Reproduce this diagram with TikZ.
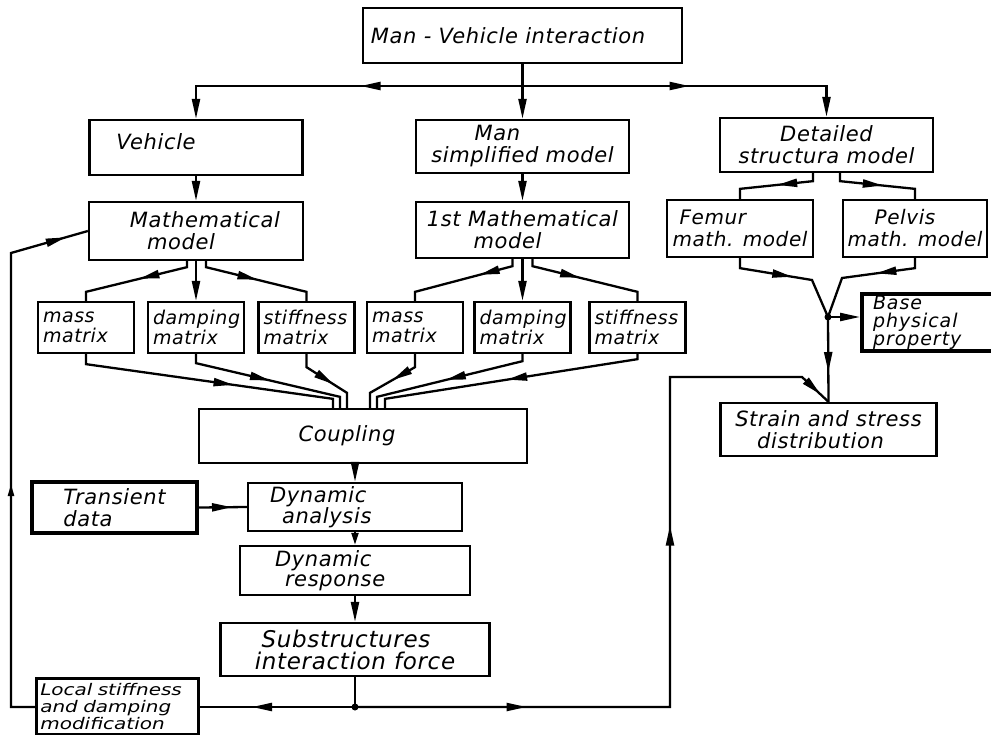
\documentclass[tikz,border=0pt]{standalone}
\usepackage{fontspec}
\setmainfont{DejaVu Sans}
\newfontfamily\handA{DejaVu Sans}[LetterSpace=3]
\newfontfamily\handC{DejaVu Sans}[LetterSpace=5]
\newfontfamily\handD{DejaVu Sans}[FakeStretch=1.25]
\usetikzlibrary{arrows.meta,decorations.markings,calc}
\tikzset{
  ln/.style={line width=2.3pt},
  >={Triangle[length=20pt,width=8pt]},
  marr/.style={postaction={decorate,decoration={markings,mark=at position #1 with {\arrow{>}}}}},
  sz/.style 2 args={minimum width=#1pt,minimum height=#2pt},
  bx/.style={draw,line width=2.3pt,inner xsep=4pt,inner ysep=2pt,
    font=\handA\itshape\fontsize{21}{22}\selectfont,align=center},
  mx/.style={bx,minimum width=96pt,minimum height=51pt,text width=86pt,inner xsep=5pt,
    align=left,font=\handA\itshape\fontsize{19}{20}\selectfont},
  tbx/.style={line width=4pt},
  dot/.style={fill=black}
}
\begin{document}
\begin{tikzpicture}[x=1pt,y=-1pt]
\useasboundingbox (0,0) rectangle (991,734);
% boxes
\node[bx,sz={319}{55}] (top) at (522.5,35.5) {Man - Vehicle interaction\hspace*{29pt}};
\node[bx,sz={213}{55}] (veh) at (196,147.5) {\raisebox{6pt}[\height][\depth]{Vehicle}\hspace*{80pt}};
\node[bx,sz={214}{58}] (vmm) at (196,231) {\hspace*{18pt}Mathematical\\model\hspace*{30pt}};
\node[bx,sz={213}{53}] (man) at (522.5,146.5) {Man\hspace*{50pt}\\simplified model};
\node[bx,sz={213}{56}] (mmm) at (522.5,230) {1st Mathematical\\model\hspace*{30pt}};
\node[bx,sz={213}{54}] (det) at (826.5,145) {Detailed\\structura model};
\node[bx,sz={146}{57},align=left,font=\handA\itshape\fontsize{20}{22}\selectfont] (fem) at (740,228.5) {\hspace*{7pt}Femur\\math. model};
\node[bx,sz={144}{57},font=\handA\itshape\fontsize{20}{22}\selectfont] (pel) at (915,228.5) {Pelvis\hspace*{20pt}\\math. model};
\node[bx,tbx,sz={133}{55},inner xsep=11pt,text width=111pt,align=left,
  font=\handC\itshape\fontsize{19}{18}\selectfont] (base) at (928.5,322.5) {Base\\physical\\property};
\node[bx,sz={216}{53}] (strain) at (828.5,429.5) {Strain and stress\\distribution\hspace*{16pt}};
\node[mx] (m1) at (86,327.5) {mass\\matrix};
\node[mx] (d1) at (196,327.5) {damping\\matrix};
\node[mx] (s1) at (306.5,327.5) {stiffness\\matrix};
\node[mx] (m2) at (415,327.5) {mass\\matrix};
\node[mx] (d2) at (522.5,327.5) {damping\\matrix};
\node[mx] (s2) at (637.5,327.5) {stiffness\\matrix};
\node[bx,sz={328}{54}] (coup) at (363,436) {Coupling\hspace*{32pt}};
\node[bx,tbx,sz={165}{51},align=left] (trans) at (114.5,507.5) {Transient\\data};
\node[bx,sz={214}{48},inner xsep=22pt,text width=170pt,align=left,
  font=\handA\itshape\fontsize{21}{19}\selectfont] (dyn) at (355,507) {Dynamic\\\hspace*{12pt}analysis};
\node[bx,sz={230}{49},inner xsep=35pt,text width=160pt,align=left,
  font=\handA\itshape\fontsize{21}{20}\selectfont] (resp) at (355,570.5) {Dynamic\\\hspace*{10pt}response};
\node[bx,sz={269}{53},font=\handA\itshape\fontsize{23}{22}\selectfont] (sub) at (355,649.5) {Substructures\hspace*{18pt}\\interaction force};
\node[bx,line width=2.6pt,anchor=north west,inner xsep=4pt,inner ysep=5pt,text width=154pt,align=left,
  font=\handD\itshape\fontsize{16}{17}\selectfont] (local) at (35,677) {Local stiffness\\and damping\\modification};
% junctions
\coordinate (j0) at (522.5,86);
\coordinate (jb) at (828,317);
\coordinate (js) at (355,707);
\coordinate (fl) at (11,707);
\coordinate (fu) at (11,253);
\coordinate (fr1) at (670,707);
\coordinate (fr2) at (670,377);
\coordinate (fr3) at (802,377);
% top distribution
\draw[ln] (top.south) -- (j0);
\draw[ln,marr=162pt,->] (j0) -| (veh.north);
\draw[ln,->] (j0) -- (man.north);
\draw[ln,marr=167pt,->] (j0) -| (det.north);
\draw[ln,->] (veh) -- (vmm);
\draw[ln,->] (man) -- (mmm);
% vehicle model -> matrices
\draw[ln,marr=55pt] ([xshift=-9pt]vmm.south) -- ++(0,6) -- ($(m1.north)+(0,-9)$) -- (m1.north);
\draw[ln,->] (vmm.south) -- (d1.north);
\draw[ln,marr=59pt] ([xshift=10pt]vmm.south) -- ++(0,6) -- ($(s1.north)+(0,-9)$) -- (s1.north);
% man model -> matrices
\draw[ln,marr=41pt] ([xshift=-10pt]mmm.south) -- ++(0,7) -- ($(m2.north)+(0,-9)$) -- (m2.north);
\draw[ln,->] (mmm.south) -- (d2.north);
\draw[ln,marr=56pt] ([xshift=10pt]mmm.south) -- ++(0,7) -- ($(s2.north)+(0,-9)$) -- (s2.north);
% detailed structure
\draw[ln,marr=44pt] ([xshift=-13.5pt]det.south) -- ++(0,8) -- ($(fem.north)+(0,-10)$) -- (fem.north);
\draw[ln,marr=51pt] ([xshift=13.5pt]det.south) -- ++(0,8) -- ($(pel.north)+(0,-10)$) -- (pel.north);
\draw[ln,marr=63pt] (fem.south) -- ++(0,10) -- ($(jb)+(-16,-37)$) -- (jb);
\draw[ln,marr=49pt] (pel.south) -- ++(0,10) -- ($(jb)+(14,-39)$) -- (jb);
\draw[ln,->] (jb) -- (jb -| base.west);
\draw[ln,marr=55pt] (jb) -- (strain.north);
\fill[dot] (jb) circle (3.5);
% matrices -> coupling
\draw[ln,marr=159pt] (m1.south) -- ++(0,10) -- ($(coup.north)+(-30,-9)$) -- ([xshift=-30pt]coup.north);
\draw[ln,marr=85pt] (d1.south) -- ++(0,9) -- ($(coup.north)+(-23,-11)$) -- ([xshift=-23pt]coup.north);
\draw[ln,marr=45pt] (s1.south) -- ++(0,13) -- ($(coup.north)+(-16,-15)$) -- ([xshift=-16pt]coup.north);
\draw[ln,marr=39pt] (m2.south) -- ++(0,13) -- ($(coup.north)+(7,-15)$) -- ([xshift=7pt]coup.north);
\draw[ln,marr=86pt] (d2.south) -- ++(0,7) -- ($(coup.north)+(14,-11)$) -- ([xshift=14pt]coup.north);
\draw[ln,marr=137pt] (s2.south) -- ++(0,5) -- ($(coup.north)+(22,-9)$) -- ([xshift=22pt]coup.north);
% analysis chain
\draw[ln,->] (coup.south -| dyn.north) -- (dyn.north);
\draw[ln,-{Triangle[length=12pt,width=7pt]}] (dyn) -- (resp);
\draw[ln,->] (resp) -- (sub);
\draw[ln] (sub.south) -- (js);
\draw[ln,marr=33pt] (trans.east) -- (dyn.west);
% feedback loops
\draw[ln,marr=103pt] (js) -- (js -| local.east);
\draw[ln,postaction={decorate,decoration={markings,
   mark=at position 247pt with {\arrow{Triangle[length=12pt,width=6pt]}},
   mark=at position 535pt with {\arrow{>}}}}]
   (local.west |- js) -- (fl) -- (fu) -- (vmm.west);
\draw[ln,postaction={decorate,decoration={markings,
   mark=at position 171.5pt with {\arrow{>}},
   mark=at position 496.5pt with {\arrow{>}},
   mark=at position -11pt with {\arrow{>}}}}]
   (js) -- (fr1) -- (fr2) -- (fr3) -- (strain.north);
\fill[dot] (js) circle (3.5);
\end{tikzpicture}
\end{document}
